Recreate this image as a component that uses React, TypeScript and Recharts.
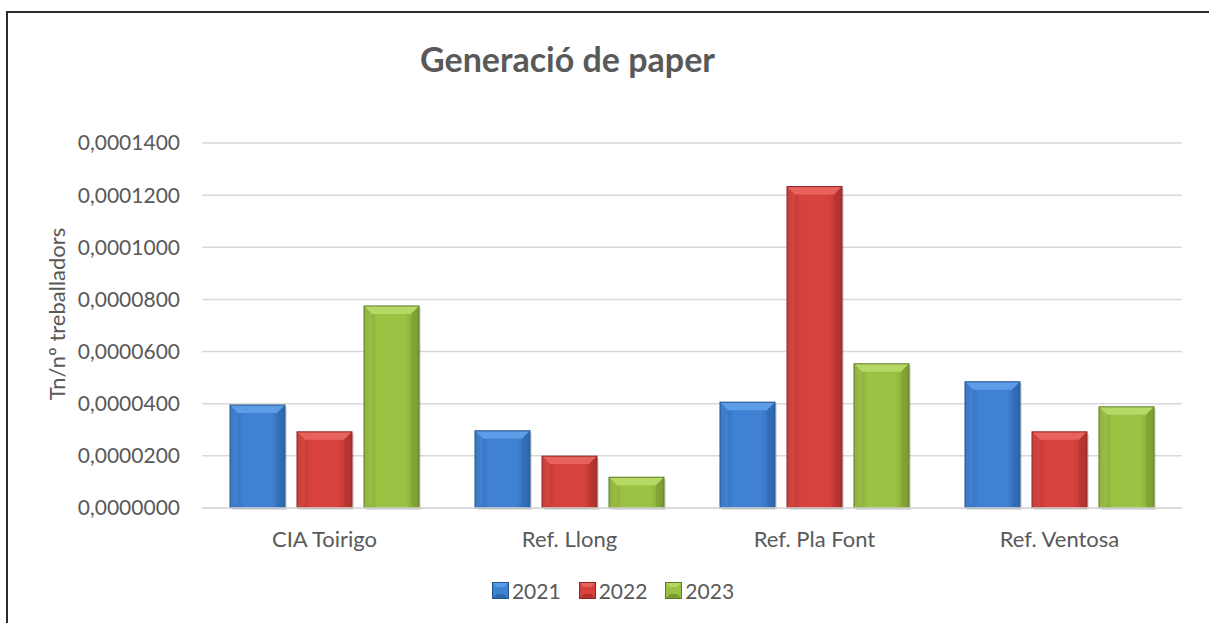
import React from "react";
import { BarChart, Bar, XAxis, YAxis, CartesianGrid, Legend } from "recharts";

const categories = ["CIA Toirigo", "Ref. Llong", "Ref. Pla Font", "Ref. Ventosa"];
const years = ["2021", "2022", "2023"];
const values2021 = [0.0000395, 0.0000296, 0.0000406, 0.0000484];
const values2022 = [0.0000292, 0.0000199, 0.0001233, 0.0000292];
const values2023 = [0.0000775, 0.0000118, 0.0000553, 0.0000388];
const yTicks = [0, 0.00002, 0.00004, 0.00006, 0.00008, 0.0001, 0.00012, 0.00014];

const data = categories.map((name, i) => ({
    name,
    "2021": values2021[i],
    "2022": values2022[i],
    "2023": values2023[i],
}));

// mid / edge / top-bevel / side / dark shades per series
const PALETTE: Record<string, { mid: string; edge: string; top: string; left: string; dark: string }> = {
    "2021": { mid: "#3f81d2", edge: "#2f67ad", top: "#5d9ce6", left: "#4a8bdb", dark: "#24528c" },
    "2022": { mid: "#d8423e", edge: "#b0312d", top: "#e8625e", left: "#df504c", dark: "#8c2522" },
    "2023": { mid: "#9cc244", edge: "#7b9c31", top: "#b5d964", left: "#a6ca50", dark: "#5f7a24" },
};

const FONT = "Lato, 'Open Sans', sans-serif";
const TEXT = "#595959";

const fmt = (v: number) => v.toFixed(7).replace(".", ",");

const BevelBar = (props: any) => {
    const { x, y, width, height, dataKey } = props;
    if (!height || height <= 0) return null;
    const c = PALETTE[dataKey];
    const b = Math.min(8, height / 2, width / 2);
    return (
        <g>
            <rect x={x + 2} y={y + 2} width={width} height={height} fill="#000" opacity={0.12} />
            <rect x={x} y={y} width={width} height={height} fill={`url(#grad${dataKey})`} />
            <polygon points={`${x},${y} ${x + width},${y} ${x + width - b},${y + b} ${x + b},${y + b}`} fill={c.top} />
            <polygon points={`${x},${y} ${x + b},${y + b} ${x + b},${y + height - 2} ${x},${y + height}`} fill={c.left} opacity={0.5} />
            <polygon points={`${x + width},${y} ${x + width - b},${y + b} ${x + width - b},${y + height - 2} ${x + width},${y + height}`} fill={c.edge} opacity={0.5} />
            <rect x={x} y={y} width={width} height={height} fill="none" stroke={c.dark} strokeWidth={1} />
        </g>
    );
};

const LegendSquare = ({ year }: { year: string }) => {
    const c = PALETTE[year];
    return (
        <svg width={17} height={17} style={{ marginRight: 3 }}>
            <rect x={0} y={0} width={17} height={17} fill={c.mid} />
            <polygon points="0,0 17,0 12,5 5,5" fill={c.top} />
            <polygon points="0,17 17,17 12,12 5,12" fill={c.edge} />
            <rect x={0.5} y={0.5} width={16} height={16} fill="none" stroke={c.dark} />
        </svg>
    );
};

const renderLegend = () => (
    <div style={{ display: "flex", justifyContent: "center", alignItems: "center", fontFamily: FONT, fontSize: 21, color: TEXT }}>
        {years.map((yr) => (
            <div key={yr} style={{ display: "flex", alignItems: "center", margin: "0 9px" }}>
                <LegendSquare year={yr} />
                <span>{yr}</span>
            </div>
        ))}
    </div>
);

export default function App() {
    return (
        <div style={{ position: "fixed", left: 0, top: 0, width: 1209, height: 623, overflow: "hidden", background: "#fff" }}>
            {/* chart frame: only its top and left edges fall inside the picture */}
            <div style={{ position: "absolute", left: 6, top: 11, width: 1400, height: 2, background: "#2b2b2b" }} />
            <div style={{ position: "absolute", left: 6, top: 11, width: 2, height: 800, background: "#2b2b2b" }} />
            <div style={{ position: "absolute", left: 0, top: 38, width: 1135, textAlign: "center", fontFamily: FONT, fontWeight: 700, fontSize: 34, color: TEXT }}>
                Generació de paper
            </div>
            <div style={{ position: "absolute", left: 0, top: 0 }}>
                <BarChart width={1209} height={623} data={data} margin={{ top: 143, right: 27, bottom: 85, left: 0 }} barSize={55} barGap={12}>
                    <defs>
                        {years.map((yr) => (
                            <linearGradient key={yr} id={`grad${yr}`} x1="0" y1="0" x2="1" y2="0">
                                <stop offset="0%" stopColor={PALETTE[yr].edge} />
                                <stop offset="25%" stopColor={PALETTE[yr].mid} />
                                <stop offset="75%" stopColor={PALETTE[yr].mid} />
                                <stop offset="100%" stopColor={PALETTE[yr].edge} />
                            </linearGradient>
                        ))}
                    </defs>
                    <CartesianGrid vertical={false} stroke="#d9d9d9" strokeWidth={1.5} />
                    <XAxis
                        dataKey="name"
                        axisLine={{ stroke: "#d9d9d9", strokeWidth: 1.5 }}
                        tickLine={false}
                        tickSize={0}
                        tickMargin={23}
                        tick={{ fill: TEXT, fontSize: 22, fontFamily: FONT }}
                    />
                    <YAxis
                        width={202}
                        domain={[0, 0.00014]}
                        ticks={yTicks}
                        tickFormatter={fmt}
                        axisLine={false}
                        tickLine={false}
                        tickSize={0}
                        tickMargin={22}
                        tick={{ fill: TEXT, fontSize: 21, fontFamily: FONT }}
                        label={{
                            content: () => (
                                <text x={56} y={314} transform="rotate(-90 56 314)" textAnchor="middle" dominantBaseline="central" fill={TEXT} fontSize={22} fontFamily={FONT}>
                                    Tn/nº treballadors
                                </text>
                            ),
                        }}
                    />
                    <Legend
                        layout="horizontal"
                        align="center"
                        verticalAlign="middle"
                        content={renderLegend}
                        wrapperStyle={{ left: 0, top: 578, width: 1226 }}
                    />
                    {years.map((yr) => (
                        <Bar key={yr} dataKey={yr} shape={BevelBar} isAnimationActive={false} />
                    ))}
                </BarChart>
            </div>
        </div>
    );
}
